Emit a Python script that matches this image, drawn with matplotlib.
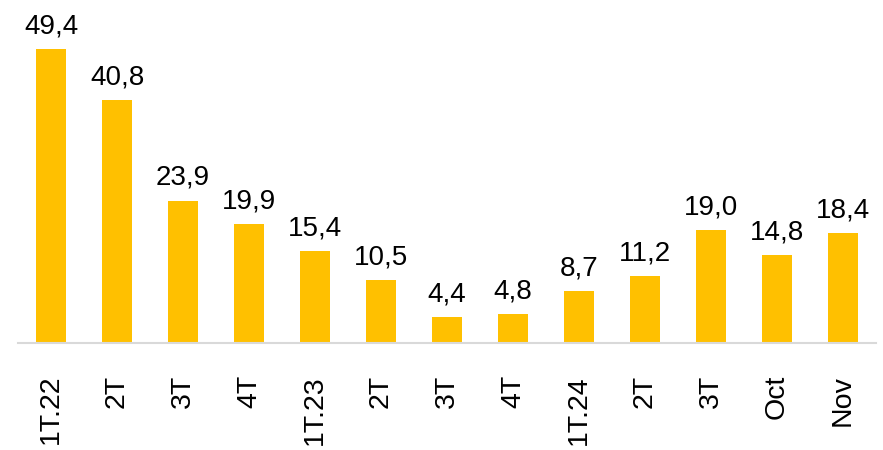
import matplotlib
matplotlib.use("Agg")
import matplotlib.pyplot as plt

categories = ["1T.22", "2T", "3T", "4T", "1T.23", "2T", "3T", "4T", "1T.24", "2T", "3T", "Oct", "Nov"]
values = [49.4, 40.8, 23.9, 19.9, 15.4, 10.5, 4.4, 4.8, 8.7, 11.2, 19.0, 14.8, 18.4]

plt.rcParams["font.family"] = ["Liberation Sans", "DejaVu Sans"]

fig = plt.figure(figsize=(8.83, 4.5), dpi=100)
ax = fig.add_axes([18/883, (450-343)/450, 858/883, 343/450])

x = list(range(len(categories)))
bars = ax.bar(x, values, width=0.455, color="#FFC000", zorder=2)

for xi, v in zip(x, values):
    ax.annotate(f"{v:.1f}".replace(".", ","), (xi, v), xytext=(0, 7),
                textcoords="offset points", ha="center", va="bottom",
                fontsize=20, color="black")

ax.set_xlim(-0.5, 12.5)
ax.set_ylim(0, 57.6)
ax.set_xticks(x)
ax.set_xticklabels(categories, rotation=90, fontsize=20.5)
ax.tick_params(axis="x", length=0, pad=23)
ax.set_yticks([])
for s in ["top", "right", "left"]:
    ax.spines[s].set_visible(False)
ax.spines["bottom"].set_color("#D9D9D9")
ax.spines["bottom"].set_linewidth(1.5)

fig.savefig("out.png", dpi=100)
